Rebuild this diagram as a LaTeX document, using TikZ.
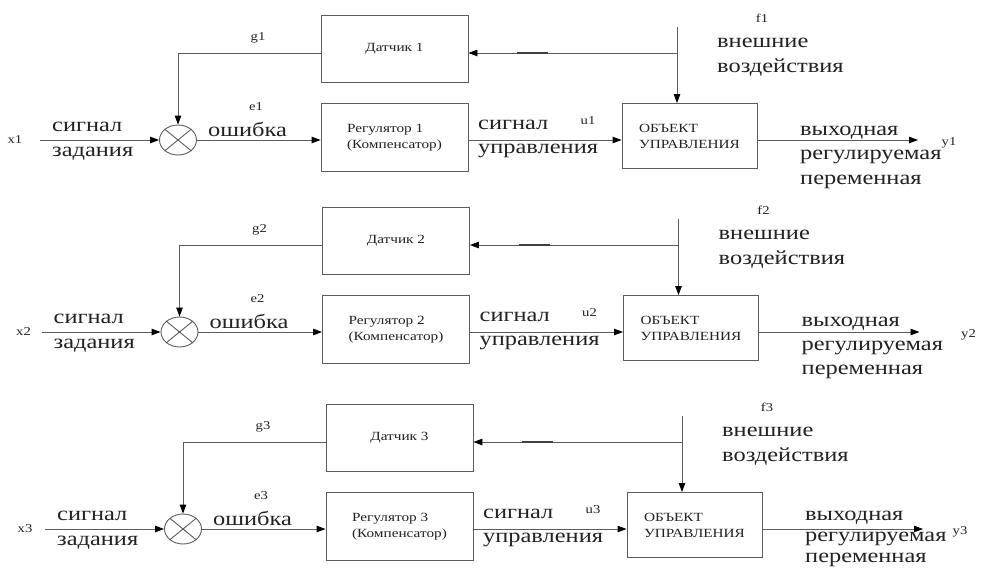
\documentclass[tikz,border=0pt]{standalone}
\usepackage{fontspec}
\setmainfont{Liberation Serif}[FakeStretch=1.22]
\usetikzlibrary{arrows.meta,shapes.geometric}
\definecolor{ink}{HTML}{222222}
\definecolor{wirecol}{HTML}{5C5C5C}
\newcommand\lblfnt{\fontsize{20}{24.5}\selectfont}
\newcommand\boxfnt{\fontsize{12.5}{16}\selectfont}
\newcommand\tagfnt{\fontsize{12}{14}\selectfont}
\begin{document}
\begin{tikzpicture}[x=1pt,y=-1pt,
  blockbox/.style={draw=wirecol, line width=0.9pt, minimum width=147pt,
    minimum height=67pt, inner sep=0pt, align=left, font=\boxfnt, text=ink},
  sumnode/.style={ellipse, draw=wirecol, line width=0.9pt, minimum width=37pt,
    minimum height=30pt, inner sep=0pt},
  wire/.style={draw=wirecol, line width=0.9pt},
  link/.style={wire, -{Triangle[length=9pt,width=6.5pt,color=black]}},
  lbl/.style={font=\lblfnt, text=ink, align=left, inner sep=0pt},
  tag/.style={font=\tagfnt, text=ink, inner sep=0pt}]
\useasboundingbox (0,0) rectangle (982,574);
\fill[white] (0,0) rectangle (982,574);
% three identical control loops, one below the other
\foreach \i/\dx/\dy/\xl/\yl/\oy/\os in {1/0/0/15/949/157/24.5,
    2/1.5/192/22/967/156/24, 3/5/389/20/955/150/21}{
\begin{scope}[shift={(\dx,\dy)}]
  % blocks
  \node[blockbox] (dat\i) at (394.5,48.5) {Датчик \i};
  \node[blockbox, minimum height=68pt] (reg\i) at (394.5,137.5)
    {Регулятор \i\\(Компенсатор)};
  \node[blockbox, minimum width=135pt, minimum height=65pt] (obj\i) at (689.5,136)
    {ОБЪЕКТ\\УПРАВЛЕНИЯ};
  \node[sumnode] (sum\i) at (178,140) {};
  \draw[wire] (sum\i.north west) -- (sum\i.south east)
              (sum\i.north east) -- (sum\i.south west);
  % free ends of the signal lines
  \coordinate (xin\i) at (40,140);
  \coordinate (ftop\i) at (677,27);
  \coordinate (fj\i) at (677,53);
  \coordinate (yend\i) at (918,140);
  % forward path
  \draw[link] (xin\i) -- (sum\i.west);
  \draw[link] (sum\i.east) -- (sum\i -| reg\i.west);
  \draw[link] (sum\i -| reg\i.east) -- (sum\i -| obj\i.west);
  \draw[link] (sum\i -| obj\i.east) -- (yend\i);
  % disturbance and feedback path
  \draw[link] (ftop\i) -- (ftop\i |- obj\i.north);
  \draw[link] (fj\i) -- (fj\i -| dat\i.east);
  \draw[line width=1.8pt, black!75] ([xshift=49pt]fj\i -| dat\i.east) -- ++(31,0);
  \draw[link] (fj\i -| dat\i.west) -| (sum\i.north);
  % signal names
  \node[tag] (x\i) at (\xl,140) {x\i};
  \node[lbl, anchor=west] (zad\i) at (52,141) {сигнал\\задания};
  \node[tag] (e\i) at (256,107) {e\i};
  \node[lbl, anchor=base west] (err\i) at (208,136) {ошибка};
  \node[tag] (g\i) at (258,38) {g\i};
  \node[lbl, anchor=west] (upr\i) at (478,139) {сигнал\\управления};
  \node[tag] (u\i) at (588,121) {u\i};
  \node[tag] (f\i) at (762,18) {f\i};
  \node[lbl, anchor=west] (vn\i) at (717,57) {внешние\\воздействия};
  \node[lbl, anchor=west, font=\fontsize{20}{\os}\selectfont] (out\i) at (800,\oy)
    {выходная\\регулируемая\\переменная};
  \node[tag] (y\i) at (\yl,143) {y\i};
\end{scope}}
\end{tikzpicture}
\end{document}
